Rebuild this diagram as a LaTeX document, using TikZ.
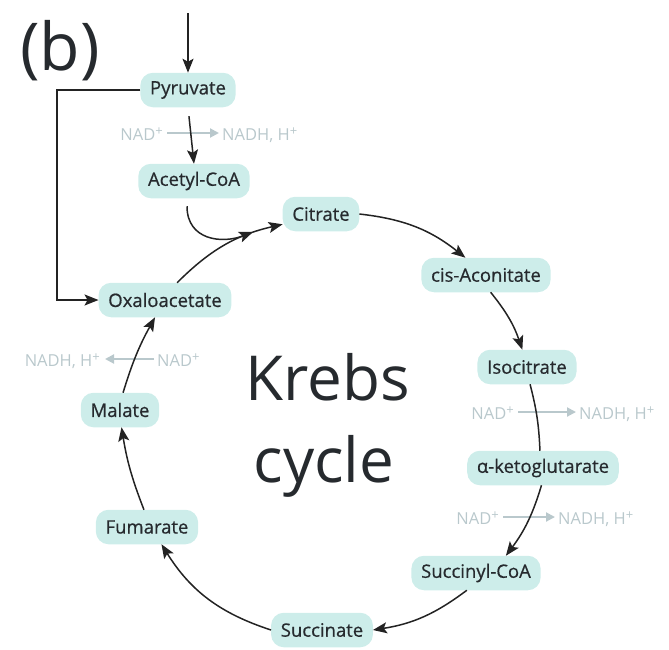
\documentclass[tikz,border=0pt]{standalone}
\usepackage{fontspec}
\newfontfamily\osans{Open Sans}
\newfontfamily\osansb{Open Sans}[FakeBold=0.6]
\usetikzlibrary{arrows.meta,calc}
\newcommand\plussup{\raisebox{0.5ex}{\fontsize{13}{13}\selectfont+}}
\definecolor{molfill}{RGB}{205,237,234}
\definecolor{txtdark}{RGB}{38,42,46}
\definecolor{nadgray}{RGB}{185,200,204}
\definecolor{arrdark}{RGB}{35,35,35}
\tikzset{
  mol/.style={fill=molfill, draw=molfill, line width=1.5pt, rounded corners=12pt,
    inner xsep=9pt, inner ysep=0pt,
    minimum height=33pt, text=txtdark, font=\osansb\fontsize{18.5}{21}\selectfont},
  nad/.style={inner sep=0pt, text=nadgray, font=\osans\fontsize{16.5}{18}\selectfont},
  big/.style={inner sep=0pt, text=txtdark, font=\osans\fontsize{62}{70}\selectfont},
  tip/.style={-{Stealth[length=14pt,width=11pt,inset=3pt]}},
  flow/.style={draw=arrdark, line width=1.5pt, tip},
  plainflow/.style={draw=arrdark, line width=1.5pt},
  nadarrow/.style={draw=nadgray, line width=2pt, -{Triangle[length=9pt,width=9pt]}}
}
\begin{document}
\begin{tikzpicture}[x=1pt,y=-1pt]
\useasboundingbox (0,0) rectangle (669,649);
% title
\node[big, anchor=base west, font=\osans\fontsize{66}{70}\selectfont] (lbl) at (20,70) {(b)};
% molecules
\coordinate (topin) at (188,13);
\node[mol] (pyr) at (188,90) {Pyruvate};
\node[mol] (acetyl) at (194,181) {Acetyl-CoA};
\node[mol] (citrate) at (321,214) {Citrate};
\node[mol] (cis) at (486,275) {cis-Aconitate};
\node[mol] (iso) at (527,367) {Isocitrate};
\node[mol] (akg) at (543,468) {α-ketoglutarate};
\node[mol] (succoa) at (476,573) {Succinyl-CoA};
\node[mol] (succ) at (322,630) {Succinate};
\node[mol] (fum) at (147,527) {Fumarate};
\node[mol] (mal) at (120,410) {Malate};
\node[mol] (oxa) at (165,300) {Oxaloacetate};
% central text
\node[big, anchor=base] (krebs) at (328,400) {Krebs};
\node[big, anchor=base] (cyc) at (324,482) {cycle};
% NAD side reactions
\node[nad, anchor=base east] (n1a) at (163,140) {NAD\plussup};
\node[nad, anchor=base west] (n1b) at (222,140) {NADH, H\plussup};
\draw[nadarrow] ($(n1a.base east)+(4,-7)$) -- ($(n1b.base west)+(-3,-7)$);
\node[nad, anchor=base east] (n2a) at (514,419) {NAD\plussup};
\node[nad, anchor=base west] (n2b) at (579,419) {NADH, H\plussup};
\draw[nadarrow] ($(n2a.base east)+(4,-7)$) -- ($(n2b.base west)+(-3,-7)$);
\node[nad, anchor=base east] (n3a) at (499,524) {NAD\plussup};
\node[nad, anchor=base west] (n3b) at (558,524) {NADH, H\plussup};
\draw[nadarrow] ($(n3a.base east)+(4,-7)$) -- ($(n3b.base west)+(-3,-7)$);
\node[nad, anchor=base west] (n4a) at (157,366) {NAD\plussup};
\node[nad, anchor=base east] (n4b) at (100,366) {NADH, H\plussup};
\draw[nadarrow] ($(n4a.base west)+(-3,-7)$) -- ($(n4b.base east)+(5,-7)$);
% main flow
\draw[flow] (topin) -- (pyr.north);
\draw[flow, shorten <=9pt] (pyr.south) -- (acetyl.north);
\draw[plainflow, tip] (pyr.west) -| (57,300) -- (oxa.west);
\coordinate (join) at (253,232);
\draw[flow, shorten <=8pt] ([xshift=-7pt]acetyl.south) .. controls +(0,42) and (222,244) .. (join);
% cycle
\draw[flow] (oxa.55) to[bend left=16] (citrate.195);
\draw[flow] (citrate.east) to[bend left=16] (cis.140);
\draw[flow] (cis.-75) to[bend left=10] (iso.105);
\draw[plainflow] (iso.-80) to[bend left=6] (akg.100);
\draw[flow] (akg.-95) to[bend left=10] (succoa.30);
\draw[flow] (succoa.-118) to[bend left=14] (succ.east);
\draw[flow] (succ.west) to[bend left=20] (fum.-50);
\draw[flow] (fum.100) to[bend left=6] (mal.-85);
\draw[flow] (mal.80) to[bend left=6] (oxa.-120);
\end{tikzpicture}
\end{document}
